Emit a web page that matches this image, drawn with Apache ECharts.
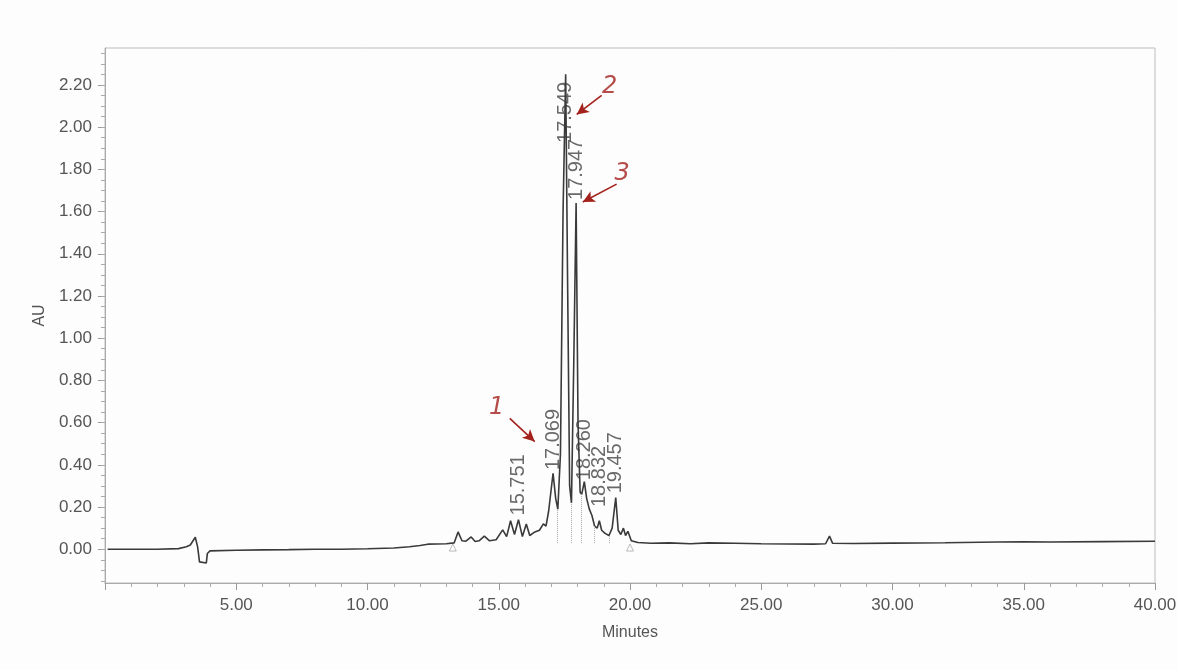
<!DOCTYPE html>
<html>
<head>
<meta charset="utf-8">
<script src="https://cdn.jsdelivr.net/npm/echarts@6/dist/echarts.min.js"></script>
<style>
html,body{margin:0;padding:0;background:#fdfdfd;}
#chart{width:1178px;height:669px;}
</style>
</head>
<body>
<div id="chart"></div>
<script>
// trace (minutes, AU)
var times = [0.1,1.0,2.0,2.8,3.1,3.25,3.44,3.53,3.6,3.86,3.9,3.95,4.0,5.0,6.0,7.0,8.0,9.0,10.0,11.0,11.6,12.0,12.3,13.0,13.3,
  13.45,13.6,13.75,13.95,14.1,14.25,14.45,14.65,14.9,15.15,15.3,15.45,15.6,15.751,15.9,16.05,16.18,16.35,16.55,16.7,16.8,16.9,
  17.069,17.17,17.25,17.35,17.45,17.549,17.62,17.7,17.77,17.86,17.947,18.02,18.1,18.16,18.26,18.35,18.45,18.55,18.65,18.75,
  18.832,18.92,19.05,19.2,19.32,19.457,19.55,19.65,19.75,19.83,19.92,20.05,20.3,20.8,21.5,22.3,23.0,24.0,25.0,26.0,27.0,
  27.45,27.6,27.72,28.5,30.0,32.0,34.0,35.0,36.0,38.0,40.0];
var au = [0.000,0.000,0.000,0.003,0.012,0.020,0.057,0.010,-0.060,-0.065,-0.020,-0.012,-0.008,-0.005,-0.003,-0.002,0.000,0.000,0.002,0.006,0.012,0.018,0.024,0.026,0.030,
  0.082,0.040,0.038,0.058,0.037,0.040,0.062,0.040,0.045,0.092,0.060,0.135,0.070,0.140,0.060,0.120,0.065,0.080,0.090,0.120,0.110,0.180,
  0.360,0.240,0.190,0.450,1.600,2.250,1.300,0.300,0.220,0.900,1.640,0.600,0.270,0.260,0.320,0.240,0.190,0.160,0.110,0.100,
  0.135,0.090,0.075,0.065,0.100,0.245,0.090,0.070,0.100,0.065,0.085,0.040,0.032,0.028,0.030,0.026,0.030,0.028,0.026,0.025,0.024,
  0.026,0.062,0.028,0.027,0.029,0.031,0.034,0.035,0.034,0.036,0.038];

// peak retention time labels and where each label starts (AU)
var peakTimes = [15.751,17.069,17.549,17.947,18.260,18.832,19.457];
var peakLabelAU = [0.16,0.375,1.925,1.655,0.327,0.20,0.265];

// integration drop lines and baseline markers
var dropTimes = [17.24,17.77,18.16,18.65,19.2];
var dropTops = [0.19,0.22,0.26,0.11,0.065];
var markTimes = [13.25,20.0];

// hand written notes
var noteText = ['1','2','3'];
var noteT = [14.92,19.22,19.7];
var noteAU = [0.67,2.19,1.78];
var arrowFrom = [[15.42,0.62],[18.92,2.15],[19.49,1.73]];
var arrowTo = [[16.37,0.51],[17.97,2.06],[18.2,1.645]];

var yLabels = [0,0.2,0.4,0.6,0.8,1.0,1.2,1.4,1.6,1.8,2.0,2.2];
var yMinor = [];
for(var k=-3;k<=47;k++){ yMinor.push(Math.round(k*5)/100); }

var trace = [];
for(var i=0;i<times.length;i++){ trace.push([times[i],au[i]]); }
var peaks = [];
for(var i=0;i<peakTimes.length;i++){ peaks.push([peakTimes[i],peakLabelAU[i]]); }
var drops = [];
for(var i=0;i<dropTimes.length;i++){ drops.push([{coord:[dropTimes[i],0.03]},{coord:[dropTimes[i],dropTops[i]]}]); }
var marks = [];
for(var i=0;i<markTimes.length;i++){ marks.push([markTimes[i],0.008]); }
var notes = [];
for(var i=0;i<noteText.length;i++){ notes.push({value:[noteT[i],noteAU[i]],name:noteText[i]}); }
var arrows = [];
for(var i=0;i<arrowFrom.length;i++){ arrows.push([{coord:arrowFrom[i]},{coord:arrowTo[i]}]); }

var font = '"Liberation Sans", Arial, sans-serif';
var option = {
  backgroundColor:'#fdfdfd',
  animation:false,
  grid:{left:105,right:23,top:48,bottom:86,show:true,borderColor:'#bdbdbd',borderWidth:1,
    containLabel:false,outerBoundsMode:'none'},
  xAxis:{
    type:'value',min:0,max:40,interval:5,
    name:'Minutes',nameLocation:'middle',nameGap:42,
    nameTextStyle:{fontSize:16,color:'#555',fontFamily:font},
    axisLine:{show:true,onZero:false,lineStyle:{color:'#aaa'}},
    axisTick:{show:true,length:7,lineStyle:{color:'#999'}},
    minorTick:{show:true,splitNumber:5,length:4,lineStyle:{color:'#aaa'}},
    splitLine:{show:false},
    axisLabel:{margin:14,fontSize:17,color:'#555',fontFamily:font,showMaxLabel:true,
      formatter:function(v){ return v===0 ? '' : v.toFixed(2); }}
  },
  yAxis:[{
    type:'value',min:-0.16,max:2.375,
    name:'AU',nameLocation:'middle',nameGap:56,nameRotate:90,
    nameTextStyle:{fontSize:16,color:'#555',fontFamily:font},
    axisLine:{show:true,lineStyle:{color:'#aaa'}},
    axisTick:{show:true,length:7,customValues:yLabels,lineStyle:{color:'#999'}},
    splitLine:{show:false},
    axisLabel:{margin:13,fontSize:17,color:'#555',fontFamily:font,customValues:yLabels,
      formatter:function(v){ return v.toFixed(2); }}
  },{
    type:'value',min:-0.16,max:2.375,position:'left',
    axisLine:{show:false},
    axisTick:{show:true,length:4,customValues:yMinor,lineStyle:{color:'#aaa'}},
    axisLabel:{show:false},
    splitLine:{show:false}
  }],
  series:[{
    name:'trace',type:'line',data:trace,showSymbol:false,symbol:'none',
    lineStyle:{color:'#3a3a3a',width:1.6},
    markLine:{silent:true,symbol:['none','none'],label:{show:false},
      lineStyle:{color:'#aaa',type:'dotted',width:1},data:drops}
  },{
    name:'peaks',type:'scatter',data:peaks,symbolSize:0,
    label:{show:true,position:'inside',rotate:90,align:'left',verticalAlign:'middle',
      fontSize:20,color:'#444',fontFamily:font,
      formatter:function(p){ return p.value[0].toFixed(3); }}
  },{
    name:'marks',type:'scatter',data:marks,symbol:'triangle',symbolSize:7,
    itemStyle:{color:'none',borderColor:'#aaa',borderWidth:1}
  },{
    name:'notes',type:'scatter',data:notes,symbolSize:0,
    label:{show:true,position:'inside',fontSize:24,fontStyle:'italic',color:'#a3221d',
      fontFamily:'"DejaVu Sans", sans-serif',formatter:'{b}'},
    markLine:{silent:true,symbol:['none','arrow'],symbolSize:[9,12],label:{show:false},
      lineStyle:{color:'#a3221d',type:'solid',width:1.6},data:arrows}
  }]
};
var mychart=echarts.init(document.getElementById('chart'));
mychart.setOption(option);
</script>
</body>
</html>
